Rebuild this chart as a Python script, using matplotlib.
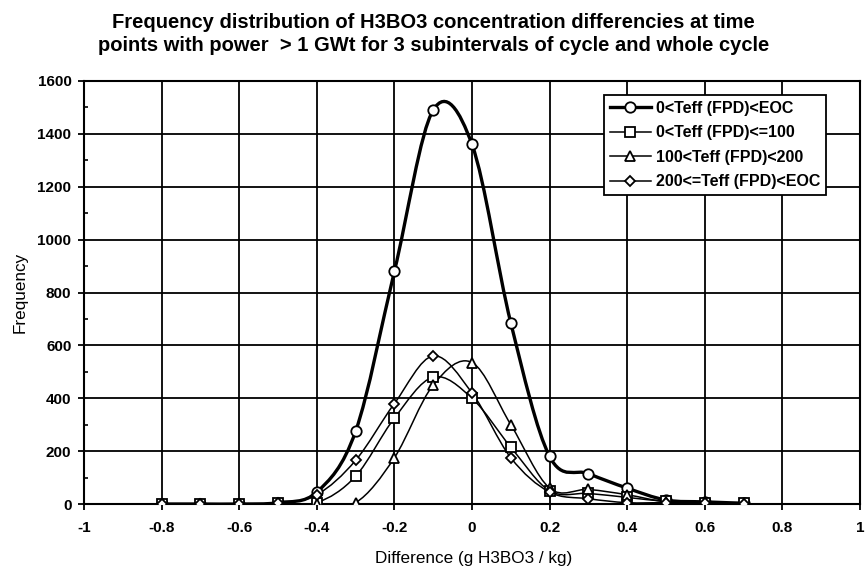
import numpy as np
import matplotlib.pyplot as plt
from matplotlib.path import Path
from matplotlib.patches import PathPatch
from matplotlib.ticker import MultipleLocator, FuncFormatter

plt.rcParams['font.family'] = ['Liberation Sans', 'DejaVu Sans']

# difference classes (g H3BO3 / kg)
diff = [-0.8, -0.7, -0.6, -0.5, -0.4, -0.3, -0.2, -0.1, 0.0, 0.1, 0.2, 0.3, 0.4, 0.5, 0.6, 0.7]

# frequencies
whole_cycle = [0, 0, 0, 5, 45, 275, 880, 1490, 1360, 685, 180, 115, 60, 15, 8, 3]
sub_0_100 = [0, 0, 0, 3, 5, 105, 325, 480, 400, 215, 50, 40, 25, 10, 5, 2]
sub_100_200 = [0, 0, 0, 0, 0, 5, 175, 450, 535, 300, 60, 55, 35, 8, 5, 1]
sub_200_eoc = [0, 0, 0, 2, 35, 165, 380, 560, 420, 175, 45, 20, 5, 5, 3, 0]

labels = ['0<Teff (FPD)<EOC', '0<Teff (FPD)<=100', '100<Teff (FPD)<200', '200<=Teff (FPD)<EOC']


def smooth_path(x, y):
    # Excel-like smoothed line: cubic bezier segments, catmull-rom control points
    x = np.asarray(x, float)
    y = np.asarray(y, float)
    verts = [(x[0], y[0])]
    codes = [Path.MOVETO]
    n = len(x)
    for i in range(n - 1):
        x0, y0 = (x[i - 1], y[i - 1]) if i > 0 else (x[i], y[i])
        x3, y3 = (x[i + 2], y[i + 2]) if i + 2 < n else (x[i + 1], y[i + 1])
        c1 = (x[i] + (x[i + 1] - x0) / 6, y[i] + (y[i + 1] - y0) / 6)
        c2 = (x[i + 1] - (x3 - x[i]) / 6, y[i + 1] - (y3 - y[i]) / 6)
        verts += [c1, c2, (x[i + 1], y[i + 1])]
        codes += [Path.CURVE4] * 3
    return Path(verts, codes)


fig = plt.figure(figsize=(8.67, 5.73), dpi=100)
ax = fig.add_axes([84 / 867, 1 - 504 / 573, 776 / 867, 423 / 573])

series = [
    (whole_cycle, 'o', 2.4, 7.5),
    (sub_0_100, 's', 1.1, 7),
    (sub_100_200, '^', 1.1, 7),
    (sub_200_eoc, 'D', 1.1, 5.5),
]

handles = []
for (vals, mk, lw, ms), lab in zip(series, labels):
    ax.add_patch(PathPatch(smooth_path(diff, vals), facecolor='none',
                           edgecolor='black', lw=lw, zorder=3))
    ax.plot(diff, vals, linestyle='none', marker=mk, ms=ms, mfc='white',
            mec='black', mew=1.3, zorder=4)
    h, = ax.plot([], [], color='black', lw=lw, marker=mk, ms=ms, mfc='white',
                 mec='black', mew=1.3)
    handles.append(h)

ax.set_xlim(-1, 1)
ax.set_ylim(0, 1600)
ax.xaxis.set_major_locator(MultipleLocator(0.2))
ax.yaxis.set_major_locator(MultipleLocator(200))
ax.yaxis.set_minor_locator(MultipleLocator(100))
ax.xaxis.set_major_formatter(FuncFormatter(lambda v, p: '%g' % round(v, 1)))
ax.grid(True, which='major', color='black', lw=1.3)
ax.set_axisbelow(True)
for s in ax.spines.values():
    s.set_linewidth(1.5)
ax.tick_params(which='major', direction='out', length=4, width=1.3,
               labelsize=11)
ax.tick_params(which='minor', direction='in', length=3, width=1.2)
ax.tick_params(axis='x', pad=8)
ax.tick_params(axis='y', pad=5)
for t in ax.get_xticklabels() + ax.get_yticklabels():
    t.set_fontweight('bold')

ax.set_xlabel('Difference (g H3BO3 / kg)', fontsize=12.3, va='center')
ax.set_ylabel('Frequency', fontsize=12.3, va='center')
ax.xaxis.set_label_coords(0.5 + (474 - 472) / 776, (504 - 558) / 423)
ax.yaxis.set_label_coords((20 - 84) / 776, 0.5)

fig.text(0.5, 1 - 34 / 573,
         'Frequency distribution of H3BO3 concentration differencies at time\n'
         'points with power  > 1 GWt for 3 subintervals of cycle and whole cycle',
         ha='center', va='center', fontsize=14.5, fontweight='bold', linespacing=1.3)

leg = ax.legend(handles, labels, loc='upper right', bbox_to_anchor=(0.956, 0.967),
                frameon=True, fancybox=False, edgecolor='black', framealpha=1,
                prop={'size': 11.5, 'weight': 'bold'}, handlelength=2.6,
                borderpad=0.35, labelspacing=0.6, handletextpad=0.3,
                borderaxespad=0)
leg.get_frame().set_linewidth(1.3)

fig.savefig('out.png', dpi=100)
